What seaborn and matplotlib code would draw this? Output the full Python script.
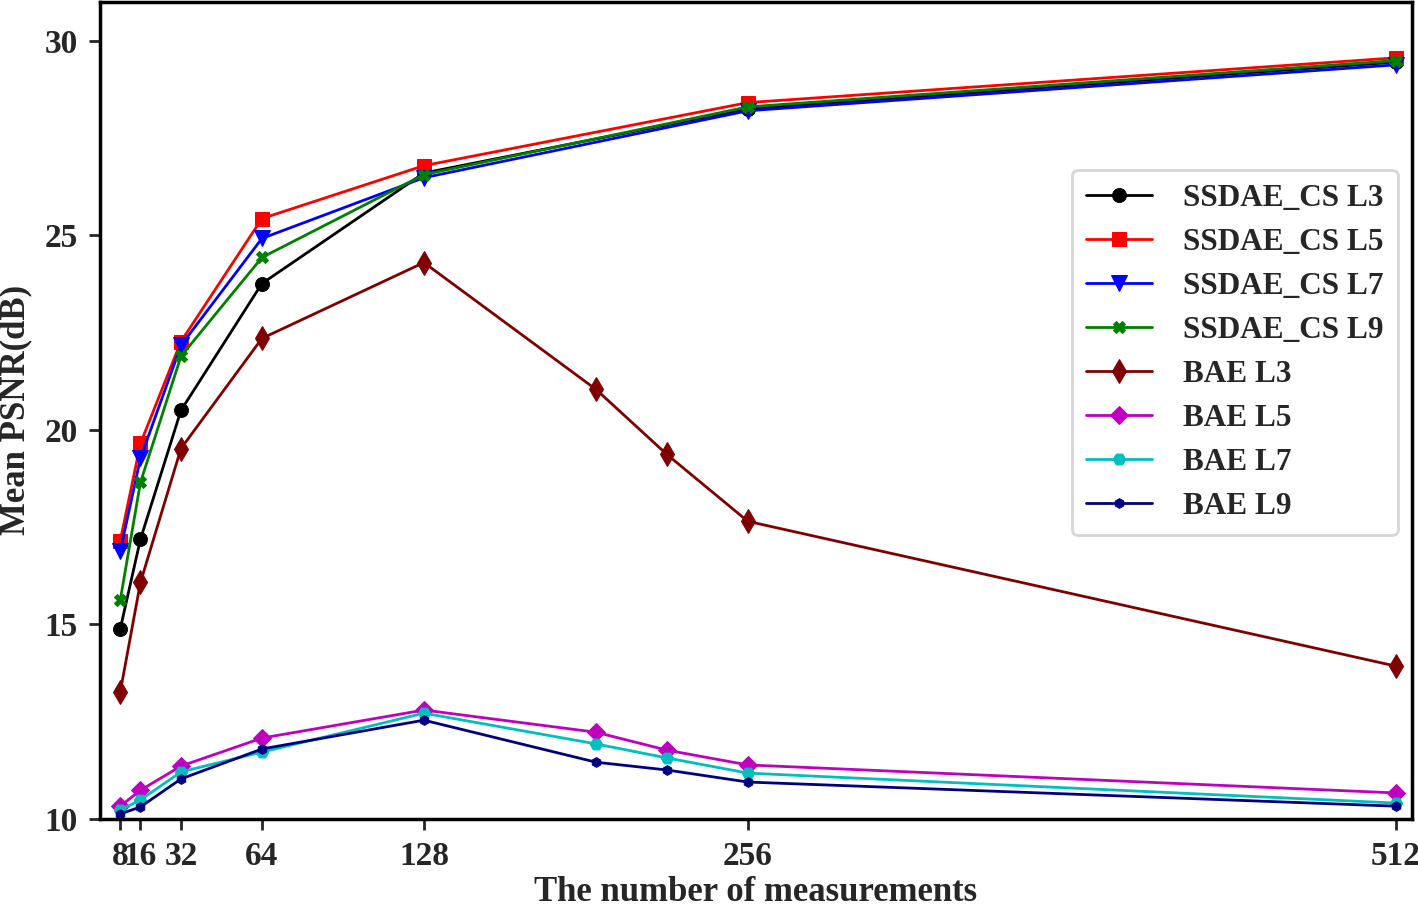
import matplotlib
matplotlib.use("Agg")
import matplotlib.pyplot as plt
import pandas as pd
import seaborn as sns

# measurement counts
x_ssdae = [8, 16, 32, 64, 128, 256, 512]
x_bae = [8, 16, 32, 64, 128, 196, 224, 256, 512]

ssdae_l3 = [14.88, 17.19, 20.50, 23.76, 26.60, 28.25, 29.45]
ssdae_l5 = [17.14, 19.65, 22.27, 25.43, 26.79, 28.41, 29.56]
ssdae_l7 = [16.88, 19.27, 22.17, 24.92, 26.48, 28.20, 29.38]
ssdae_l9 = [15.62, 18.65, 21.89, 24.43, 26.56, 28.30, 29.49]

bae_l3 = [13.26, 16.08, 19.52, 22.35, 24.30, 21.04, 19.37, 17.65, 13.93]
bae_l5 = [10.33, 10.74, 11.36, 12.08, 12.80, 12.23, 11.77, 11.39, 10.67]
bae_l7 = [10.23, 10.49, 11.21, 11.72, 12.72, 11.93, 11.57, 11.18, 10.41]
bae_l9 = [10.13, 10.31, 11.03, 11.80, 12.54, 11.46, 11.26, 10.95, 10.33]

xticks = [8, 16, 32, 64, 128, 256, 512]

series = [
    ("SSDAE_CS L3", x_ssdae, ssdae_l3, "black", "o", 10),
    ("SSDAE_CS L5", x_ssdae, ssdae_l5, "red", "s", 10),
    ("SSDAE_CS L7", x_ssdae, ssdae_l7, "blue", "v", 11),
    ("SSDAE_CS L9", x_ssdae, ssdae_l9, "green", "X", 8),
    ("BAE L3", x_bae, bae_l3, "#800000", "d", 12),
    ("BAE L5", x_bae, bae_l5, "m", "D", 9),
    ("BAE L7", x_bae, bae_l7, "c", "H", 9),
    ("BAE L9", x_bae, bae_l9, "navy", "h", 7),
]

rows = []
for name, xs, ys, *_ in series:
    for xv, yv in zip(xs, ys):
        rows.append({"m": xv, "psnr": yv, "model": name})
df = pd.DataFrame(rows)

sns.set_style("ticks")
plt.rcParams["font.family"] = ["Liberation Serif", "DejaVu Serif"]
plt.rcParams["font.weight"] = "bold"

fig = plt.figure(figsize=(14.18, 9.08), dpi=100)
ax = fig.add_axes([0.0705, 0.098, 0.925, 0.9])

for name, xs, ys, color, marker, ms in series:
    sns.lineplot(data=df[df["model"] == name], x="m", y="psnr", ax=ax,
                 color=color, marker=marker, markersize=ms, linewidth=2,
                 markeredgecolor=color, label=name, errorbar=None)

ax.set_xlim(0, 518.3)
ax.set_ylim(10, 31)
ax.set_xticks(xticks)
ax.set_xticklabels([str(t) for t in xticks])
ax.set_yticks([10, 15, 20, 25, 30])
ax.tick_params(axis="both", labelsize=24, width=2, length=8, direction="out", pad=8)
for lbl in ax.get_xticklabels() + ax.get_yticklabels():
    lbl.set_fontweight("bold")
for sp in ax.spines.values():
    sp.set_visible(True)
    sp.set_linewidth(2.5)
    sp.set_color("black")

ax.set_xlabel("The number of measurements", fontsize=25, fontweight="bold", labelpad=3)
ax.set_ylabel("Mean PSNR(dB)", fontsize=25, fontweight="bold", labelpad=9)

leg = ax.legend(loc="upper right", bbox_to_anchor=(0.9893, 0.7944), borderaxespad=0,
                prop={"family": "Liberation Serif", "weight": "bold", "size": 22.5},
                frameon=True, fancybox=True, handlelength=2.1, labelspacing=0.48,
                handletextpad=1.0, borderpad=0.45)
leg.get_frame().set_edgecolor("#cccccc")
leg.get_frame().set_linewidth(2)

fig.savefig("out.png", dpi=100)
